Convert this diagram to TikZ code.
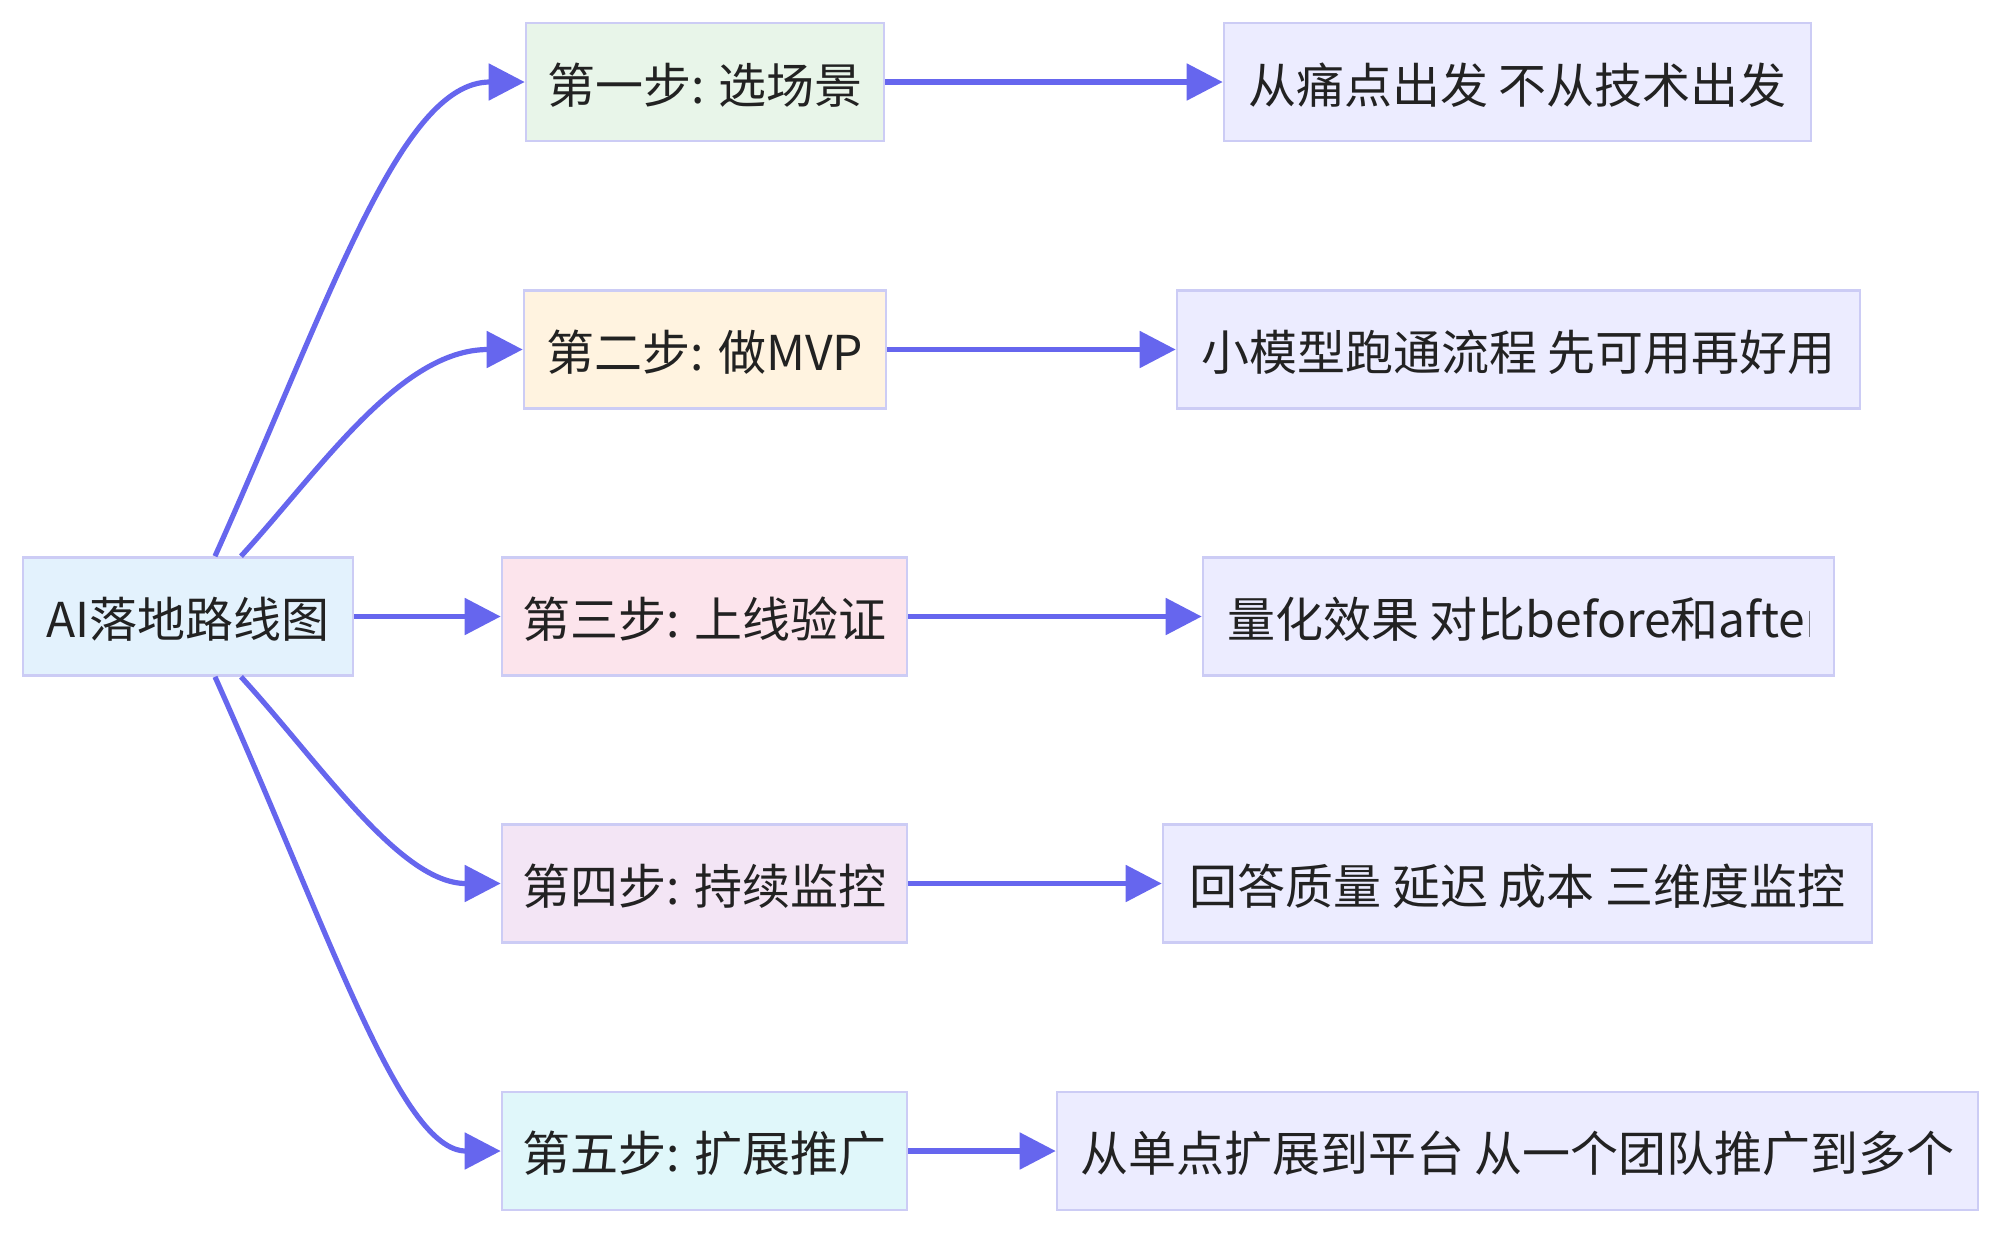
\documentclass[tikz,border=0pt]{standalone}
\usepackage{fontspec}
\setmainfont{Noto Sans CJK SC}
\usetikzlibrary{arrows.meta,calc}
\definecolor{edgec}{RGB}{102,102,238}
\definecolor{bord}{RGB}{204,204,245}
\definecolor{txt}{RGB}{34,34,34}
\definecolor{froot}{HTML}{E3F2FD}
\definecolor{fone}{HTML}{E8F5E9}
\definecolor{ftwo}{HTML}{FFF3E0}
\definecolor{fthree}{HTML}{FCE4EC}
\definecolor{ffour}{HTML}{F3E5F5}
\definecolor{ffive}{HTML}{E0F7FA}
\definecolor{fright}{HTML}{ECECFF}
\newcommand{\lbl}[1]{\raisebox{-1.4pt}[\height][\depth]{#1}}
\begin{document}
\begin{tikzpicture}[x=0.5pt,y=-0.5pt,
  box/.style={draw=bord,line width=1.3pt,minimum height=59pt,inner sep=0pt,text=txt,font=\fontsize{24}{28}\selectfont},
  link/.style={draw=edgec,line width=2.6pt,-{Triangle[length=18pt,width=18pt]}}]
\useasboundingbox (0,0) rectangle (2004,1233);
% left column
\node[box,fill=froot,minimum width=165pt] (root) at (188,616.5) {\lbl{AI落地路线图}};
\node[box,fill=fone,minimum width=179pt] (s1) at (705,82) {\lbl{第一步: 选场景}};
\node[box,fill=ftwo,minimum width=181pt] (s2) at (705,349.5) {\lbl{第二步: 做MVP}};
\node[box,fill=fthree,minimum width=202.5pt] (s3) at (704.5,616.5) {\lbl{第三步: 上线验证}};
\node[box,fill=ffour,minimum width=202.5pt] (s4) at (704.5,883.5) {\lbl{第四步: 持续监控}};
\node[box,fill=ffive,minimum width=202.5pt] (s5) at (704.5,1151) {\lbl{第五步: 扩展推广}};
% right column
\node[box,fill=fright,minimum width=293.5pt] (r1) at (1517.5,82) {\lbl{从痛点出发 不从技术出发}};
\node[box,fill=fright,minimum width=341.5pt] (r2) at (1518.5,349.5) {\lbl{小模型跑通流程 先可用再好用}};
\node[box,fill=fright,minimum width=315.5pt] (r3) at (1518.5,616.5) {};
\begin{scope}
  \clip ($(r3.north west)+(2,2)$) rectangle ($(r3.south west)+(608,-2)$);
  \node[box,draw=none,anchor=west,inner xsep=0pt] (r3t) at ($(r3.west)+(24,0)$) {\lbl{量化效果 对比before和after}};
\end{scope}
\node[box,fill=fright,minimum width=354.5pt] (r4) at (1517.5,883.5) {\lbl{回答质量 延迟 成本 三维度监控}};
\node[box,fill=fright,minimum width=460.5pt] (r5) at (1517.5,1151) {\lbl{从单点扩展到平台 从一个团队推广到多个}};
% curved links
\draw[link] ($(root.north)+(27,0)$) .. controls (330,300) and (400,82) .. (s1.west);
\draw[link] ($(root.north)+(53,0)$) .. controls (320,470) and (400,349.5) .. (s2.west);
\draw[link] (root.east) -- (s3.west);
\draw[link] ($(root.south)+(53,0)$) .. controls (320,763) and (400,883.5) .. (s4.west);
\draw[link] ($(root.south)+(27,0)$) .. controls (330,933) and (400,1151) .. (s5.west);
% straight links
\draw[link] (s1.east) -- (r1.west);
\draw[link] (s2.east) -- (r2.west);
\draw[link] (s3.east) -- (r3.west);
\draw[link] (s4.east) -- (r4.west);
\draw[link] (s5.east) -- (r5.west);
\end{tikzpicture}
\end{document}
